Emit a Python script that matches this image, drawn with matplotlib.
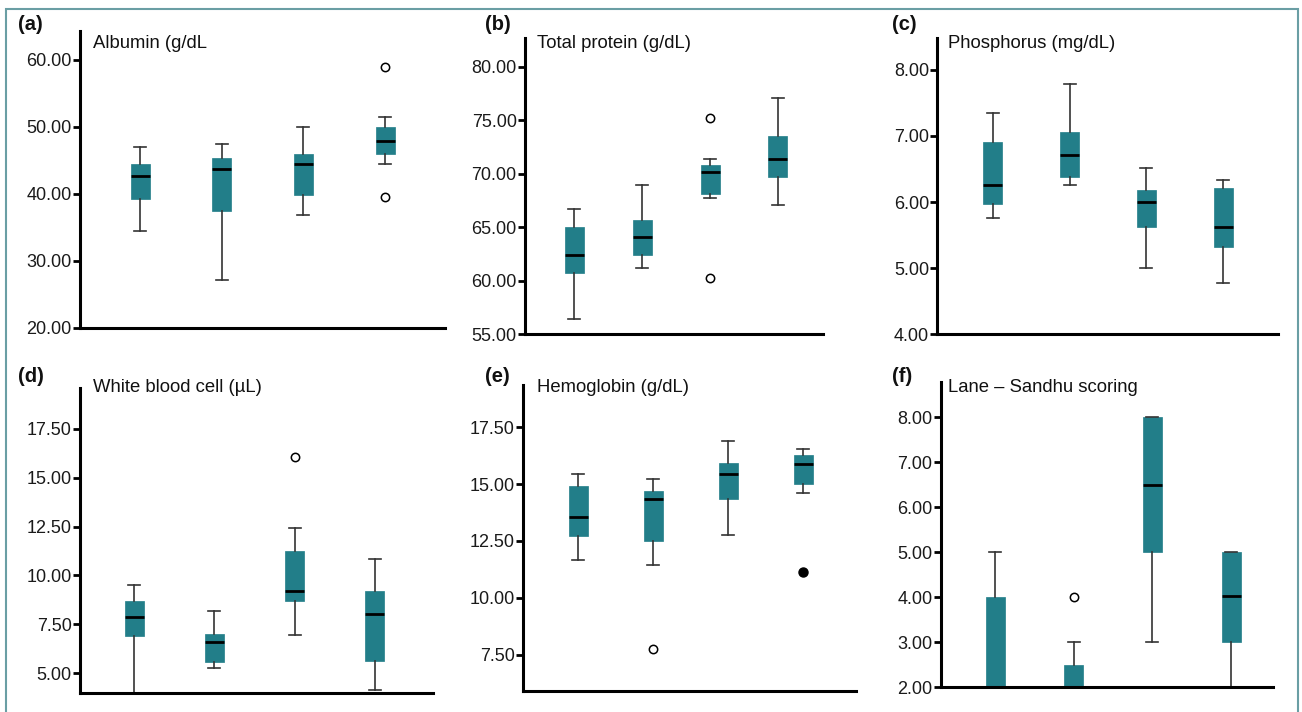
import matplotlib
matplotlib.use('Agg')
import matplotlib.pyplot as plt
from matplotlib.patches import Rectangle

plt.rcParams['font.family'] = ['Liberation Sans', 'DejaVu Sans']

# ---------------- data ----------------
groups = [1, 2, 3, 4]

albumin_whishi = [47.0, 47.5, 50.0, 51.4]
albumin_q3 = [44.5, 45.3, 45.9, 50.0]
albumin_med = [42.7, 43.7, 44.4, 47.9]
albumin_q1 = [39.2, 37.5, 39.9, 45.9]
albumin_whislo = [34.4, 27.2, 36.9, 44.5]
albumin_out = [[], [], [], [58.9, 39.5]]
albumin_ext = [[], [], [], []]

protein_whishi = [66.7, 69.0, 71.4, 77.1]
protein_q3 = [65.0, 65.7, 70.8, 73.5]
protein_med = [62.4, 64.1, 70.2, 71.4]
protein_q1 = [60.7, 62.4, 68.1, 69.7]
protein_whislo = [56.4, 61.2, 67.7, 67.1]
protein_out = [[], [], [75.2, 60.3], []]
protein_ext = [[], [], [], []]

phos_whishi = [7.34, 7.79, 6.51, 6.34]
phos_q3 = [6.91, 7.06, 6.18, 6.21]
phos_med = [6.26, 6.71, 6.00, 5.62]
phos_q1 = [5.97, 6.38, 5.62, 5.32]
phos_whislo = [5.76, 6.26, 5.00, 4.77]
phos_out = [[], [], [], []]
phos_ext = [[], [], [], []]

wbc_whishi = [9.5, 8.2, 12.4, 10.85]
wbc_q3 = [8.68, 7.0, 11.27, 9.2]
wbc_med = [7.88, 6.6, 9.18, 8.02]
wbc_q1 = [6.9, 5.55, 8.67, 5.6]
wbc_whislo = [3.8, 5.28, 6.97, 4.15]
wbc_out = [[], [], [16.05], []]
wbc_ext = [[], [], [], []]

hb_whishi = [15.43, 15.23, 16.91, 16.53]
hb_q3 = [14.9, 14.68, 15.92, 16.27]
hb_med = [13.57, 14.35, 15.45, 15.9]
hb_q1 = [12.73, 12.51, 14.36, 15.02]
hb_whislo = [11.65, 11.44, 12.78, 14.63]
hb_out = [[], [7.75], [], []]
hb_ext = [[], [], [], [11.15]]

ls_whishi = [5.0, 3.0, 8.0, 5.0]
ls_q3 = [4.0, 2.5, 8.0, 5.0]
ls_med = [2.0, 2.0, 6.5, 4.03]
ls_q1 = [2.0, 2.0, 5.0, 3.0]
ls_whislo = [2.0, 2.0, 3.0, 2.0]
ls_out = [[], [4.0], [], []]
ls_ext = [[], [], [], []]

titles = ['Albumin (g/dL', 'Total protein (g/dL)', 'Phosphorus (mg/dL)',
          'White blood cell (\u00b5L)', 'Hemoglobin (g/dL)', 'Lane \u2013 Sandhu scoring']
letters = ['(a)', '(b)', '(c)', '(d)', '(e)', '(f)']
yticks_list = [
    [20, 30, 40, 50, 60],
    [55, 60, 65, 70, 75, 80],
    [4, 5, 6, 7, 8],
    [5, 7.5, 10, 12.5, 15, 17.5],
    [7.5, 10, 12.5, 15, 17.5],
    [2, 3, 4, 5, 6, 7, 8],
]
datasets = [
    (albumin_whislo, albumin_q1, albumin_med, albumin_q3, albumin_whishi, albumin_out, albumin_ext),
    (protein_whislo, protein_q1, protein_med, protein_q3, protein_whishi, protein_out, protein_ext),
    (phos_whislo, phos_q1, phos_med, phos_q3, phos_whishi, phos_out, phos_ext),
    (wbc_whislo, wbc_q1, wbc_med, wbc_q3, wbc_whishi, wbc_out, wbc_ext),
    (hb_whislo, hb_q1, hb_med, hb_q3, hb_whishi, hb_out, hb_ext),
    (ls_whislo, ls_q1, ls_med, ls_q3, ls_whishi, ls_out, ls_ext),
]

# ---------------- layout (pixels) ----------------
W, H = 1302, 712
# left, right, top, bottom in pixels; box centre x of group1 and group4
layout = [
    dict(rect=(80, 445, 31, 328), c1=140, c4=385, ylim=(20, 64.3), title=(93, 44), letter=(18, 25)),
    dict(rect=(525, 823, 38, 334.3), c1=574.3, c4=778, ylim=(55, 82.7), title=(537, 44), letter=(485, 25)),
    dict(rect=(937.3, 1278, 38, 334.3), c1=992.7, c4=1223.3, ylim=(4, 8.48), title=(948, 44), letter=(892, 25)),
    dict(rect=(80, 433, 388.3, 692.7), c1=134.3, c4=374.7, ylim=(4.0, 19.57), title=(93, 388), letter=(18, 377)),
    dict(rect=(523.3, 855.7, 385, 691), c1=578.3, c4=803.3, ylim=(5.9, 19.36), title=(537, 388), letter=(485, 377)),
    dict(rect=(940.7, 1273, 381.7, 687.3), c1=995.3, c4=1231, ylim=(2.0, 8.79), title=(948, 388), letter=(892, 377)),
]

BOX = '#227e89'
WHISK = '#333333'

fig = plt.figure(figsize=(W / 100, H / 100), dpi=100)

fig.patches.append(Rectangle((6 / W, -0.05), (1298 - 6) / W, 1.05 - 9 / H,
                             transform=fig.transFigure, fill=False,
                             edgecolor='#6a9ea4', linewidth=1.5, zorder=0))

for lay, data, title, letter, yt in zip(layout, datasets, titles, letters, yticks_list):
    l, r, t, b = lay['rect']
    ax = fig.add_axes([l / W, 1 - b / H, (r - l) / W, (b - t) / H])
    sp = (lay['c4'] - lay['c1']) / 3.0
    x0 = 1 - (lay['c1'] - l) / sp
    x1 = 4 + (r - lay['c4']) / sp
    ax.set_xlim(x0, x1)
    ax.set_ylim(*lay['ylim'])
    lo, q1, med, q3, hi, out, ext = data
    stats = []
    for i in range(4):
        stats.append(dict(whislo=lo[i], q1=q1[i], med=med[i], q3=q3[i], whishi=hi[i], fliers=[]))
    ax.bxp(stats, positions=groups, widths=19 / sp, capwidths=12 / sp,
           patch_artist=True, showfliers=False,
           boxprops=dict(facecolor=BOX, edgecolor=BOX, linewidth=0.5),
           medianprops=dict(color='black', linewidth=2.0, solid_capstyle='butt'),
           whiskerprops=dict(color=WHISK, linewidth=1.2),
           capprops=dict(color=WHISK, linewidth=1.2))
    for g, vals in zip(groups, out):
        if vals:
            ax.plot([g] * len(vals), vals, linestyle='none', marker='o', markersize=6,
                    markerfacecolor='white', markeredgecolor='black', markeredgewidth=1.1)
    for g, vals in zip(groups, ext):
        if vals:
            ax.plot([g] * len(vals), vals, linestyle='none', marker='o', markersize=6.5,
                    markerfacecolor='black', markeredgecolor='black')
    for s in ['top', 'right']:
        ax.spines[s].set_visible(False)
    for s in ['left', 'bottom']:
        ax.spines[s].set_linewidth(2.2)
        ax.spines[s].set_color('black')
    ax.set_xticks([])
    ax.set_yticks(yt)
    ax.set_yticklabels(['%.2f' % v for v in yt])
    ax.tick_params(axis='y', length=5, width=2, pad=1, labelsize=13, labelcolor='#1a1a1a')
    ax.patch.set_alpha(0)
    fig.text(lay['title'][0] / W, 1 - lay['title'][1] / H, title, fontsize=13.3,
             ha='left', va='center', color='#111111')
    fig.text(lay['letter'][0] / W, 1 - lay['letter'][1] / H, letter, fontsize=14.5,
             fontweight='bold', ha='left', va='center', color='#111111')

fig.savefig('out.png', dpi=100)
